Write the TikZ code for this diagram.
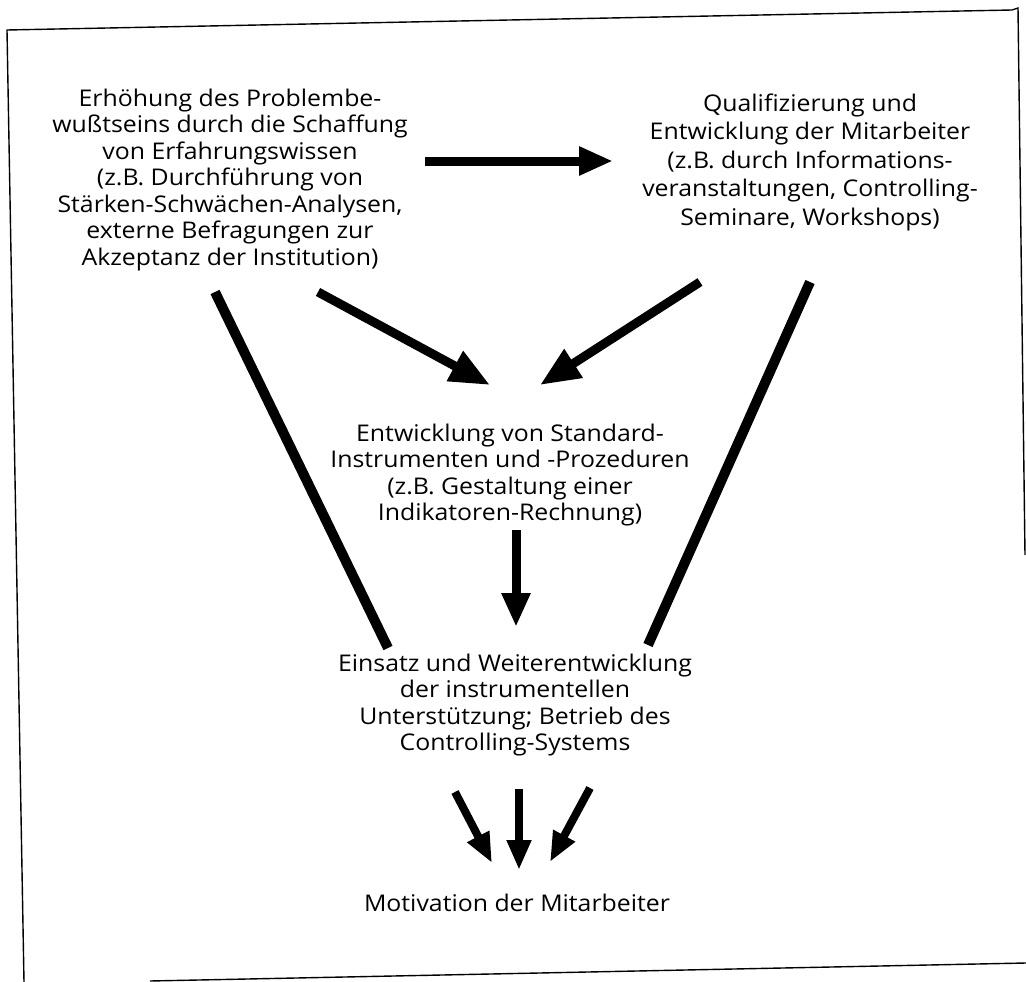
\documentclass[tikz,border=0pt]{standalone}
\usepackage{fontspec}
\setsansfont{Open Sans}[FakeStretch=1.08]
\usetikzlibrary{arrows.meta}
\begin{document}
\begin{tikzpicture}[x=1pt, y=-1pt, font=\sffamily\fontsize{23}{26.5}\selectfont,
	txt/.style={align=center, inner sep=0pt},
	bigarrow/.style={line width=9pt, -{Triangle[length=34pt,width=27pt]}},
	diagarrow/.style={bigarrow, -{Triangle[length=40pt,width=32pt]}},
	smallarrow/.style={line width=8pt, -{Triangle[length=30pt,width=23pt]}},
	bar/.style={line width=10pt},
	rahmen/.style={line width=1.4pt}]
	\useasboundingbox (0,0) rectangle (1026,982);
	%frame
	\draw[rahmen] (24,982) -- (7,30) -- (1012,10) -- (1018,8) -- (1025,555);
	\draw[rahmen] (150,981) -- (1026,963);
	%nodes
	\node[txt] (problem) at (230,180) {Erhöhung des Problembe-\\wußtseins durch die Schaffung\\von Erfahrungswissen\\(z.B. Durchführung von\\Stärken-Schwächen-Analysen,\\externe Befragungen zur\\Akzeptanz der Institution)};
	\node[txt, font=\sffamily\fontsize{23}{28.5}\selectfont] (quali) at (810,162) {Qualifizierung und\\Entwicklung der Mitarbeiter\\(z.B. durch Informations-\\veranstaltungen, Controlling-\\Seminare, Workshops)};
	\node[txt] (standard) at (510,475) {Entwicklung von Standard-\\Instrumenten und -Prozeduren\\(z.B. Gestaltung einer\\Indikatoren-Rechnung)};
	\node[txt] (einsatz) at (515,705) {Einsatz und Weiterentwicklung\\der instrumentellen\\Unterstützung; Betrieb des\\Controlling-Systems};
	\node[txt] (motivation) at (517,903) {Motivation der Mitarbeiter};
	%arrows
	\draw[bigarrow] ([shift={(195,-19)}]problem.center) -- ([shift={(-197,-1)}]quali.center);
	\draw[diagarrow] ([shift={(88,112)}]problem.center) -- ([shift={(-20,-90)}]standard.center);
	\draw[diagarrow] ([shift={(-110,120)}]quali.center) -- ([shift={(30,-90)}]standard.center);
	\draw[bar] ([shift={(-15,112)}]problem.center) -- ([shift={(-127,-57)}]einsatz.center);
	\draw[bar] ([shift={(0,120)}]quali.center) -- ([shift={(133,-60)}]einsatz.center);
	\draw[bigarrow] ([shift={(6,55)}]standard.center) -- ([shift={(1,-78)}]einsatz.center);
	\foreach \ax/\ay/\bx/\by in {-60/87/-25/-40, 4/84/2/-33, 75/83/33/-41}
	\draw[smallarrow] ([shift={(\ax,\ay)}]einsatz.center) -- ([shift={(\bx,\by)}]motivation.center);
\end{tikzpicture}
\end{document}
